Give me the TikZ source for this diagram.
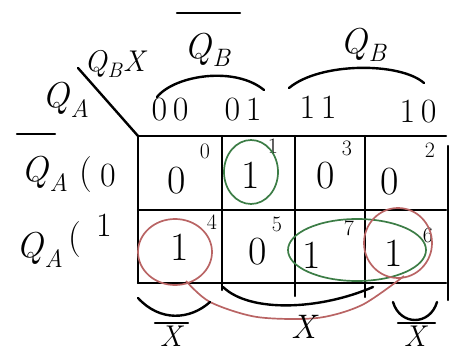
\documentclass[tikz,border=0pt]{standalone}
\usepackage{fontspec}
\setmainfont{Latin Modern Roman}
\usetikzlibrary{calc}
\definecolor{kgreen}{RGB}{60,125,70}
\definecolor{kred}{RGB}{185,100,100}
\newcommand{\qvar}[1]{\textit{Q}\textsubscript{\textit{#1}}}
\begin{document}
\begin{tikzpicture}[x=1pt,y=-1pt,
  ink/.style={line width=2.4pt,line cap=round,line join=round},
  loopg/.style={line width=1.7pt,draw=kgreen},
  loopr/.style={line width=1.7pt,draw=kred},
  big/.style={font=\fontsize{36}{38}\selectfont,inner sep=0pt},
  cellv/.style={font=\fontsize{40}{42}\selectfont,inner sep=0pt},
  mid/.style={font=\fontsize{34}{36}\selectfont,inner sep=0pt},
  low/.style={font=\fontsize{30}{32}\selectfont,inner sep=0pt},
  idx/.style={font=\fontsize{22}{24}\selectfont,inner sep=0pt}]
\useasboundingbox (0,0) rectangle (462,352);
% grid
\draw[ink] (138,136) -- (446,136);
\draw[ink] (138,210) -- (446,210);
\draw[ink] (138,283) -- (446,283);
\draw[ink] (138,136) -- (138,283);
\draw[ink] (222,136) -- (222,290);
\draw[ink] (295,136) -- (295,296);
\draw[ink] (365,136) -- (365,297);
\draw[ink] (448,146) -- (448,300);
\draw[ink] (78,68) -- (138,136);
% corner labels
\node[low] (cqb) at (116,64) {\qvar{B}\textit{X}};
\node[big] (cqa) at (66,100) {\qvar{A}};
% column codes
\node[mid] (c00) at (170,110) {0\,0};
\node[mid] (c01) at (243,110) {0\,1};
\node[mid] (c11) at (318,107) {1\,1};
\node[mid] (c10) at (418,112) {1\,0};
% top braces and labels
\draw[ink] (157,97) .. controls (175,75) and (235,66) .. (264,90);
\draw[ink] (289,88) .. controls (320,62) and (400,62) .. (424,83);
\draw[ink] (177,13) -- (240,13);
\node[big] (tqb1) at (208,50) {\qvar{B}};
\node[big] (tqb2) at (364,45) {\qvar{B}};
% row labels
\draw[ink] (17,134) -- (55,134);
\node[big] (r0q) at (45,174) {\qvar{A}};
\node[big] (r0p) at (86,175) {(};
\node[mid] (r0v) at (108,176) {0};
\node[big] (r1q) at (40,250) {\qvar{A}};
\node[big] (r1p) at (75,240) {(};
\node[mid] (r1v) at (104,225) {1};
% cells
\node[cellv] (m0) at (177,181) {0}; \node[idx] (i0) at (205,151) {0};
\node[cellv] (m1) at (251,175) {1}; \node[idx] (i1) at (273,146) {1};
\node[cellv] (m3) at (326,176) {0}; \node[idx] (i3) at (347,148) {3};
\node[cellv] (m2) at (390,182) {0}; \node[idx] (i2) at (430,150) {2};
\node[cellv] (m4) at (180,247) {1}; \node[idx] (i4) at (212,222) {4};
\node[cellv] (m5) at (258,252) {0}; \node[idx] (i5) at (277,224) {5};
\node[cellv] (m7) at (312,255) {1}; \node[idx] (i7) at (349,228) {7};
\node[cellv] (m6) at (394,253) {1}; \node[idx] (i6) at (428,235) {6};
% groupings
\draw[loopg] (251,172) ellipse [x radius=27, y radius=32];
\draw[loopg] (357,250) ellipse [x radius=69, y radius=31];
\draw[loopr] (175,252) ellipse [x radius=37, y radius=33];
\draw[loopr] (398,243) ellipse [x radius=34, y radius=35];
\draw[loopr] plot[smooth] coordinates {(404,276) (362,305) (317,318) (257,317) (210,302) (186,281)};
% bottom braces and labels
\draw[ink] (138,298) .. controls (160,322) and (190,320) .. (210,302);
\draw[ink] (223,287) .. controls (250,313) and (320,310) .. (373,287);
\draw[ink] (393,302) .. controls (400,326) and (430,326) .. (437,302);
\draw[ink] (155,323) -- (188,323);
\node[low] (bx1) at (172,336) {\textit{X}};
\node[mid] (bx2) at (305,327) {\textit{X}};
\draw[ink] (398,323) -- (435,323);
\node[low] (bx3) at (416,336) {\textit{X}};
\end{tikzpicture}
\end{document}
